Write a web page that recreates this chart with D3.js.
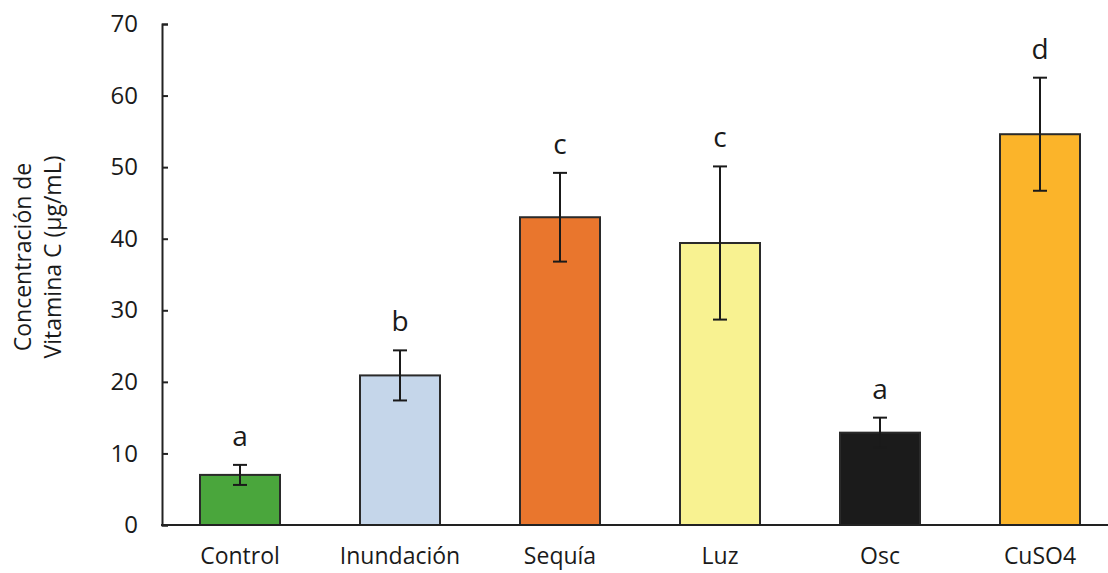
<!DOCTYPE html>
<html>
<head>
<meta charset="utf-8">
<script src="https://cdn.jsdelivr.net/npm/d3@7"></script>
<style>
  body { margin: 0; background: #fff; }
  text { font-family: "Open Sans", sans-serif; fill: #1a1a1a; }
</style>
</head>
<body>
<div id="chart"></div>
<script>
// data
var categories = ["Control", "Inundación", "Sequía", "Luz", "Osc", "CuSO4"];
var means      = [7.0, 20.9, 43.0, 39.4, 12.9, 54.6];
var errors     = [1.4, 3.5, 6.2, 10.7, 2.1, 7.9];
var letters    = ["a", "b", "c", "c", "a", "d"];
var colors     = ["#4aa63c", "#c5d6ea", "#e9762d", "#f8f291", "#1b1b1b", "#fbb42a"];
var yTicks     = [0, 10, 20, 30, 40, 50, 60, 70];

var W = 1108, H = 573;
var margin = {top: 24, left: 162, bottom: 48};
var plotBottom = H - margin.bottom;

var svg = d3.select("#chart").append("svg")
  .attr("width", W)
  .attr("height", H);

var x = d3.scaleBand()
  .domain(categories)
  .range([margin.left - 2, margin.left + 958])
  .paddingInner(0.5)
  .paddingOuter(0.25);

var y = d3.scaleLinear()
  .domain([0, 70])
  .range([plotBottom, margin.top]);

var data = categories.map(function(c, i) {
  return {cat: c, mean: means[i], err: errors[i], letter: letters[i], color: colors[i]};
});

// y axis (ticks point inward)
var yAxis = svg.append("g")
  .attr("transform", "translate(" + margin.left + ",0)")
  .call(d3.axisLeft(y).tickValues(yTicks).tickSizeInner(-6).tickSizeOuter(-6).tickPadding(24));
yAxis.selectAll("path, line").attr("stroke", "#222").attr("stroke-width", 2);
yAxis.selectAll("text").style("font-size", "24px").attr("fill", "#1a1a1a");

// bars
svg.selectAll("rect.bar")
  .data(data)
  .enter()
  .append("rect")
    .attr("class", "bar")
    .attr("x", function(d) { return x(d.cat); })
    .attr("y", function(d) { return y(d.mean); })
    .attr("width", x.bandwidth())
    .attr("height", function(d) { return y(0) - y(d.mean); })
    .attr("fill", function(d) { return d.color; })
    .attr("stroke", "#2a2a2a")
    .attr("stroke-width", 2);

// error bars
var eb = svg.selectAll("g.err")
  .data(data)
  .enter()
  .append("g")
    .attr("class", "err")
    .attr("stroke", "#1a1a1a")
    .attr("stroke-width", 2);
eb.append("line")
  .attr("x1", function(d) { return x(d.cat) + x.bandwidth() / 2; })
  .attr("x2", function(d) { return x(d.cat) + x.bandwidth() / 2; })
  .attr("y1", function(d) { return y(d.mean - d.err); })
  .attr("y2", function(d) { return y(d.mean + d.err); });
[-1, 1].forEach(function(s) {
  eb.append("line")
    .attr("x1", function(d) { return x(d.cat) + x.bandwidth() / 2 - 7; })
    .attr("x2", function(d) { return x(d.cat) + x.bandwidth() / 2 + 7; })
    .attr("y1", function(d) { return y(d.mean + s * d.err); })
    .attr("y2", function(d) { return y(d.mean + s * d.err); });
});

// significance letters
svg.selectAll("text.letter")
  .data(data)
  .enter()
  .append("text")
    .attr("class", "letter")
    .attr("x", function(d) { return x(d.cat) + x.bandwidth() / 2; })
    .attr("y", function(d) { return y(d.mean + d.err) - 19; })
    .attr("text-anchor", "middle")
    .style("font-size", "28px")
    .text(function(d) { return d.letter; });

// x axis
var xAxis = svg.append("g")
  .attr("transform", "translate(0," + plotBottom + ")")
  .call(d3.axisBottom(x).tickSize(0).tickPadding(23));
xAxis.select(".domain").remove();
xAxis.selectAll("text").style("font-size", "23px").attr("fill", "#1a1a1a");
svg.append("line")
  .attr("x1", margin.left - 1)
  .attr("x2", W)
  .attr("y1", plotBottom)
  .attr("y2", plotBottom)
  .attr("stroke", "#222")
  .attr("stroke-width", 2);

// y axis title
var yt = svg.append("text")
  .attr("transform", "translate(23,257) rotate(-90)")
  .attr("text-anchor", "middle")
  .style("font-size", "23px");
yt.append("tspan").attr("x", 0).attr("dy", "0.35em").text("Concentración de");
yt.append("tspan").attr("x", 0).attr("dy", "1.3em").text("Vitamina C (µg/mL)");
</script>
</body>
</html>
